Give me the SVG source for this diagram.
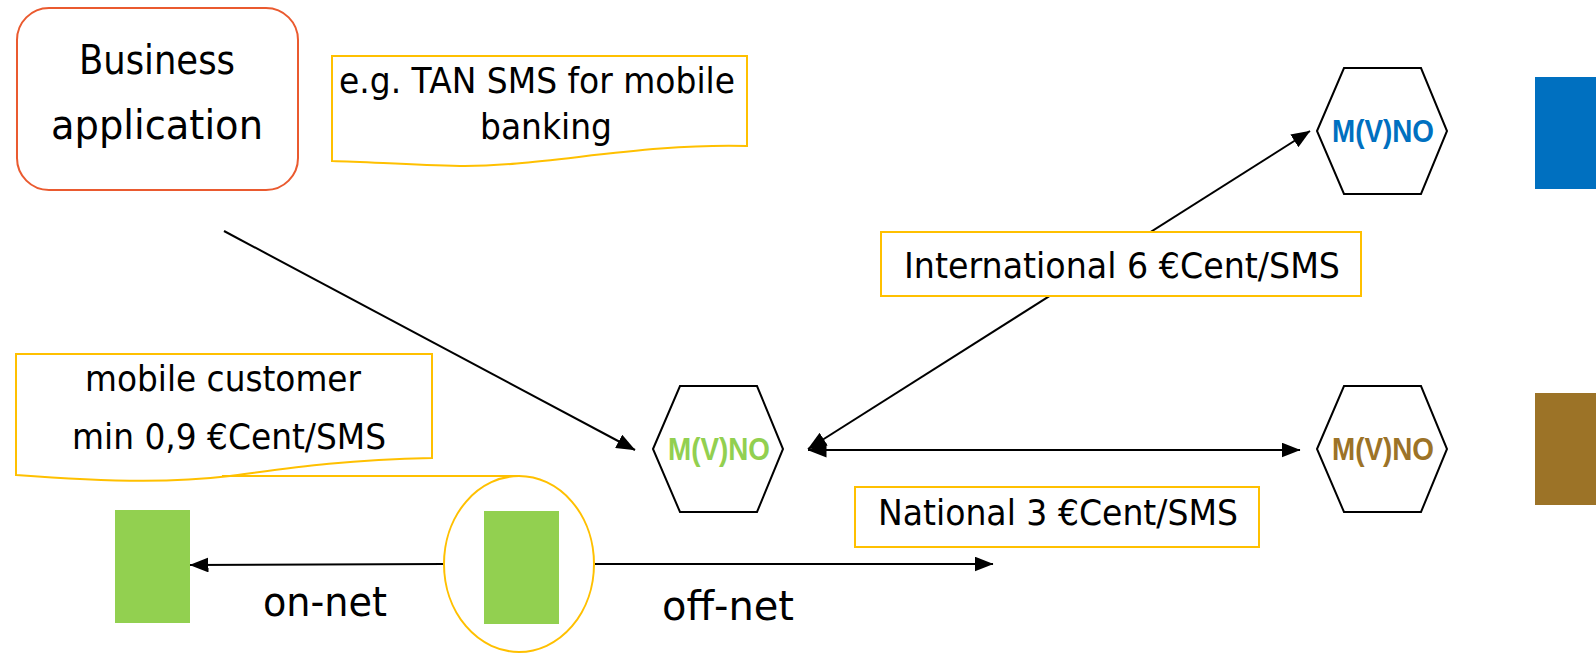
<svg xmlns="http://www.w3.org/2000/svg" width="1596" height="653" viewBox="0 0 1596 653">
<style>
.t{font-family:"DejaVu Sans",sans-serif;fill:#000;text-anchor:middle}
.call{fill:#fff;stroke:#FFC000;stroke-width:2}
.hex{fill:#fff;stroke:#000;stroke-width:2}
.hl{font-family:"Liberation Sans",Arial,sans-serif;font-weight:bold;font-size:31px;text-anchor:middle}
.ln{stroke:#000;stroke-width:2;fill:none}
</style>
<defs>
<marker id="ah" viewBox="0 0 19 15" refX="18.5" refY="7.5" markerWidth="19" markerHeight="15" markerUnits="userSpaceOnUse" orient="auto-start-reverse">
<path d="M0,0 L19,7.5 L0,15 Z" fill="#000"/>
</marker>
</defs>
<rect width="1596" height="653" fill="#fff"/>

<g id="connectors">
<line class="ln" x1="224" y1="231" x2="635" y2="450" stroke-width="1.4" marker-end="url(#ah)"/>
<line class="ln" x1="808" y1="449" x2="1310" y2="131" marker-start="url(#ah)" marker-end="url(#ah)"/>
<line class="ln" x1="808" y1="450" x2="1300" y2="450" marker-start="url(#ah)" marker-end="url(#ah)"/>
<line class="ln" x1="444" y1="564" x2="190" y2="565" marker-end="url(#ah)"/>
<line class="ln" x1="595" y1="564" x2="993" y2="564" marker-end="url(#ah)"/>
</g>

<g id="business">
<rect x="17" y="8" width="281" height="182" rx="32" fill="#fff" stroke="#EA5A2F" stroke-width="2"/>
<text class="t" x="157" y="74" font-size="41" textLength="156" lengthAdjust="spacingAndGlyphs">Business</text>
<text class="t" x="157" y="139" font-size="41" textLength="212" lengthAdjust="spacingAndGlyphs">application</text>
</g>

<g id="callout-tan">
<path class="call" d="M332,56 H747 V146 C640,143 540,167 460,166 C410,165 370,162 332,161 Z"/>
<text class="t" x="537" y="93" font-size="36" textLength="396" lengthAdjust="spacingAndGlyphs">e.g. TAN SMS for mobile</text>
<text class="t" x="546" y="139" font-size="36" textLength="132" lengthAdjust="spacingAndGlyphs">banking</text>
</g>

<g id="label-international">
<rect class="call" x="881" y="232" width="480" height="64"/>
<text class="t" x="1122" y="278" font-size="36" textLength="436" lengthAdjust="spacingAndGlyphs">International 6 €Cent/SMS</text>
</g>

<g id="label-national">
<rect class="call" x="855" y="487" width="404" height="60"/>
<text class="t" x="1058" y="525" font-size="36" textLength="360" lengthAdjust="spacingAndGlyphs">National 3 €Cent/SMS</text>
</g>

<g id="callout-customer">
<path class="call" d="M16,354 H432 V458 C340,460 290,468 230,476 C180,482 120,483 16,475 Z"/>
<line x1="222" y1="476" x2="519" y2="476" stroke="#FFC000" stroke-width="2"/>
<text class="t" x="223" y="391" font-size="35" textLength="276" lengthAdjust="spacingAndGlyphs">mobile customer</text>
<text class="t" x="229" y="449" font-size="35" textLength="314" lengthAdjust="spacingAndGlyphs">min 0,9 €Cent/SMS</text>
</g>

<g id="mvno-green">
<polygon class="hex" points="653,449 680,386 757,386 783,449 757,512 680,512"/>
<text class="hl" x="719" y="460" fill="#92D050" textLength="102" lengthAdjust="spacingAndGlyphs">M(V)NO</text>
</g>

<g id="mvno-blue">
<polygon class="hex" points="1317,131 1344,68 1421,68 1447,131 1421,194 1344,194"/>
<text class="hl" x="1383" y="142" fill="#0070C0" textLength="102" lengthAdjust="spacingAndGlyphs">M(V)NO</text>
</g>

<g id="mvno-brown">
<polygon class="hex" points="1317,449 1344,386 1421,386 1447,449 1421,512 1344,512"/>
<text class="hl" x="1383" y="460" fill="#9C7327" textLength="102" lengthAdjust="spacingAndGlyphs">M(V)NO</text>
</g>

<g id="bar-blue"><rect x="1535" y="77" width="61" height="112" fill="#0070C0"/></g>
<g id="bar-brown"><rect x="1535" y="393" width="61" height="112" fill="#9C7327"/></g>

<g id="phone-left"><rect x="115" y="510" width="75" height="113" fill="#92D050"/></g>

<g id="phone-customer">
<ellipse cx="519" cy="564" rx="75" ry="88" fill="none" stroke="#FFC000" stroke-width="2"/>
<rect x="484" y="511" width="75" height="113" fill="#92D050"/>
</g>

<g id="labels">
<text class="t" x="325" y="616" font-size="41" textLength="124" lengthAdjust="spacingAndGlyphs">on-net</text>
<text class="t" x="728" y="620" font-size="41" textLength="132" lengthAdjust="spacingAndGlyphs">off-net</text>
</g>
</svg>
